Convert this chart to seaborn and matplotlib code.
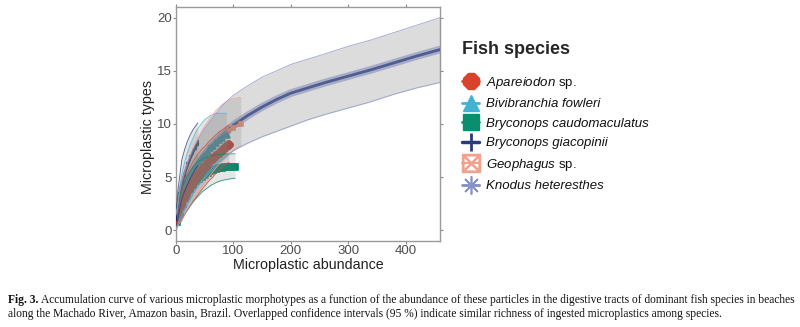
import matplotlib
matplotlib.use("Agg")
import matplotlib.pyplot as plt
import seaborn as sns
import pandas as pd
from matplotlib.lines import Line2D

# ---------------- data ----------------
species = ["Apareiodon sp.", "Bivibranchia fowleri", "Bryconops caudomaculatus",
           "Bryconops giacopinii", "Geophagus sp.", "Knodus heteresthes"]

apa_x = [1, 5, 10, 15, 20, 25, 30, 35, 40, 46, 52, 58, 64, 70, 76, 82, 87, 92]
apa_y = [1.0, 1.4, 2.3, 3.0, 3.6, 4.1, 4.55, 4.9, 5.3, 5.7, 6.05, 6.4, 6.7, 7.0, 7.3, 7.6, 7.8, 8.05]
apa_lo = [0.3, 0.6, 1.0, 1.5, 2.0, 2.4, 2.8, 3.1, 3.5, 3.9, 4.3, 4.7, 5.0, 5.4, 5.7, 6.0, 6.2, 6.4]
apa_hi = [1.7, 2.6, 3.8, 4.7, 5.4, 6.0, 6.5, 6.9, 7.3, 7.7, 8.0, 8.4, 8.7, 9.0, 9.3, 9.5, 9.7, 9.9]

biv_x = [1, 5, 10, 15, 20, 25, 30, 35, 40, 45, 50, 55, 60, 65, 70, 75, 80, 88]
biv_y = [1.0, 2.0, 3.0, 3.8, 4.5, 5.1, 5.6, 6.0, 6.4, 6.8, 7.1, 7.4, 7.7, 7.95, 8.2, 8.45, 8.7, 9.0]
biv_lo = [0.3, 0.8, 1.3, 1.9, 2.4, 2.9, 3.4, 3.9, 4.3, 4.7, 5.0, 5.4, 5.7, 6.0, 6.3, 6.5, 6.7, 7.0]
biv_hi = [1.8, 3.6, 5.2, 6.4, 7.3, 8.1, 8.7, 9.3, 9.7, 10.1, 10.4, 10.6, 10.8, 10.9, 11.0, 11.0, 11.0, 11.0]

cau_x = [1, 5, 10, 15, 20, 25, 30, 35, 40, 45, 50, 55, 60, 65, 70, 75, 80, 85, 90, 95, 103]
cau_y = [0.8, 1.6, 2.4, 3.0, 3.5, 3.9, 4.3, 4.6, 4.85, 5.05, 5.25, 5.4, 5.55, 5.65, 5.75, 5.82, 5.88, 5.92, 5.95, 5.98, 6.0]
cau_lo = [0.2, 0.6, 1.0, 1.5, 1.9, 2.3, 2.7, 3.0, 3.3, 3.6, 3.8, 4.0, 4.2, 4.35, 4.5, 4.6, 4.7, 4.75, 4.8, 4.85, 4.9]
cau_hi = [1.4, 2.7, 3.8, 4.6, 5.2, 5.6, 6.0, 6.3, 6.5, 6.65, 6.8, 6.9, 7.0, 7.05, 7.1, 7.12, 7.15, 7.17, 7.18, 7.19, 7.2]

gia_x = [1, 3, 6, 10, 15, 20, 25, 30, 34, 38]
gia_y = [1.2, 2.2, 3.3, 4.3, 5.3, 6.1, 6.8, 7.4, 7.8, 8.2]
gia_lo = [0.4, 1.0, 1.9, 2.9, 3.7, 4.3, 4.9, 5.4, 5.8, 6.1]
gia_hi = [2.0, 3.6, 4.9, 6.6, 7.6, 8.4, 9.0, 9.5, 9.8, 10.1]

geo_x = [1, 5, 10, 20, 30, 40, 50, 60, 70, 80, 90, 100, 113]
geo_y = [0.9, 1.9, 2.8, 4.2, 5.3, 6.2, 7.0, 7.7, 8.3, 8.8, 9.3, 9.65, 10.0]
geo_lo = [0.2, 0.6, 1.0, 2.0, 2.9, 3.7, 4.5, 5.2, 5.9, 6.5, 7.0, 7.5, 8.0]
geo_hi = [1.6, 3.2, 4.6, 6.4, 7.8, 8.9, 9.8, 10.6, 11.3, 11.8, 12.2, 12.4, 12.5]

kno_x = [1, 5, 10, 20, 30, 40, 50, 60, 80, 100, 125, 150, 175, 200, 230, 260, 300, 340, 380, 420, 460]
kno_y = [0.9, 2.0, 3.0, 4.4, 5.5, 6.4, 7.1, 7.8, 8.9, 9.9, 10.8, 11.6, 12.3, 12.9, 13.4, 13.9, 14.5, 15.1, 15.75, 16.4, 17.0]
kno_lo = [0.3, 0.9, 1.5, 2.6, 3.5, 4.3, 4.9, 5.5, 6.6, 7.5, 8.2, 8.8, 9.3, 9.8, 10.4, 10.9, 11.5, 12.1, 12.8, 13.4, 13.9]
kno_hi = [1.5, 3.2, 4.5, 6.3, 7.6, 8.7, 9.6, 10.3, 11.7, 12.7, 13.6, 14.4, 15.0, 15.6, 16.1, 16.6, 17.3, 17.9, 18.6, 19.3, 20.0]

x_ticks = [0, 100, 200, 300, 400]
y_ticks = [0, 5, 10, 15, 20]

caption_bold = "Fig. 3."
caption_l1 = ("Accumulation curve of various microplastic morphotypes as a function of the abundance of these "
              "particles in the digestive tracts of dominant fish species in beaches")
caption_l2 = ("along the Machado River, Amazon basin, Brazil. Overlapped confidence intervals (95 %) indicate "
              "similar richness of ingested microplastics among species.")

# ---------------- styling ----------------
colors = {
    "Apareiodon sp.": "#d9432c",
    "Bivibranchia fowleri": "#42b2d2",
    "Bryconops caudomaculatus": "#0b8d70",
    "Bryconops giacopinii": "#2b3b78",
    "Geophagus sp.": "#f2a28c",
    "Knodus heteresthes": "#8793c6",
}
series = {
    "Apareiodon sp.": (apa_x, apa_y, apa_lo, apa_hi),
    "Bivibranchia fowleri": (biv_x, biv_y, biv_lo, biv_hi),
    "Bryconops caudomaculatus": (cau_x, cau_y, cau_lo, cau_hi),
    "Bryconops giacopinii": (gia_x, gia_y, gia_lo, gia_hi),
    "Geophagus sp.": (geo_x, geo_y, geo_lo, geo_hi),
    "Knodus heteresthes": (kno_x, kno_y, kno_lo, kno_hi),
}
line_style = {
    "Knodus heteresthes": dict(marker=None, lw=2.0, color="#3f519a"),
    "Geophagus sp.": dict(marker="s", ms=3, lw=2.0, color="#ee9078"),
    "Bivibranchia fowleri": dict(marker="^", ms=5, lw=3.0, color="#1f93b0"),
    "Bryconops caudomaculatus": dict(marker="s", ms=5, lw=4.5, color="#008567"),
    "Apareiodon sp.": dict(marker="8", ms=5.5, lw=2.5, color="#c2301a"),
    "Bryconops giacopinii": dict(marker="|", ms=5, lw=2.0, color="#1e2b66"),
}
ribbon_alpha = {sp: 0.2 for sp in species}
ribbon_alpha["Knodus heteresthes"] = 0.27

sns.set_theme(style="white")
plt.rcParams["font.family"] = ["Liberation Sans", "DejaVu Sans"]
plt.rcParams["mathtext.fontset"] = "custom"
plt.rcParams["mathtext.it"] = "Liberation Sans:italic"
plt.rcParams["mathtext.rm"] = "Liberation Sans"

fig = plt.figure(figsize=(8.0, 3.27), dpi=100)
ax = fig.add_axes([176 / 800, 1 - 241 / 327, (440 - 176) / 800, (241 - 7) / 327])

frames = []
for sp in species:
    xs, ys, lo, hi = series[sp]
    frames.append(pd.DataFrame({"abundance": xs, "types": ys, "lo": lo, "hi": hi, "species": sp}))
df = pd.concat(frames, ignore_index=True)

# Knodus fuzzy marker band under the line
dk = df[df.species == "Knodus heteresthes"]
ax.plot(dk.abundance, dk.types, color="#b6bde2", lw=5.5, zorder=2)

draw_order = ["Knodus heteresthes", "Geophagus sp.", "Bivibranchia fowleri",
              "Bryconops caudomaculatus", "Apareiodon sp.", "Bryconops giacopinii"]
for sp in draw_order:
    d = df[df.species == sp]
    st = line_style[sp]
    kw = dict(color=st["color"], lw=st["lw"], zorder=3)
    if st["marker"]:
        kw.update(marker=st["marker"], markersize=st["ms"], markeredgewidth=1.2,
                  markeredgecolor=st["color"])
    sns.lineplot(data=d, x="abundance", y="types", ax=ax, sort=False,
                 errorbar=None, legend=False, **kw)

# confidence ribbons (drawn over the curves, as in the original)
for sp in species:
    d = df[df.species == sp]
    ax.fill_between(d.abundance, d.lo, d.hi, color="#7f7f7f", alpha=ribbon_alpha[sp], lw=0, zorder=4)
    ax.plot(d.abundance, d.lo, color=colors[sp], lw=0.7, alpha=0.75, zorder=5)
    ax.plot(d.abundance, d.hi, color=colors[sp], lw=0.7, alpha=0.75, zorder=5)

ax.set_xlim(0, 460)
ax.set_ylim(-1, 21)
ax.set_xticks(x_ticks)
ax.set_yticks(y_ticks)
ax.set_xlabel("Microplastic abundance", fontsize=10.3, color="#222222", labelpad=1)
ax.set_ylabel("Microplastic types", fontsize=10.3, color="#222222")
ax.yaxis.set_label_coords((155 - 176) / 264, (241 - 137) / 234)
ax.tick_params(axis="both", which="both", direction="out", length=2, width=0.8,
               color="#8a8a8a", labelsize=9.5, labelcolor="#4d4d4d", pad=0.8,
               top=True, right=True, bottom=True, left=True)
for s in ax.spines.values():
    s.set_color("#9a9a9a")
    s.set_linewidth(1.0)

# legend
handles = [
    Line2D([], [], color=colors["Apareiodon sp."], marker="8", ms=12, lw=2),
    Line2D([], [], color=colors["Bivibranchia fowleri"], marker="^", ms=11, lw=2),
    Line2D([], [], color=colors["Bryconops caudomaculatus"], marker="s", ms=11, lw=2),
    Line2D([], [], color=colors["Bryconops giacopinii"], marker="|", ms=13, mew=2, lw=2.5),
    Line2D([], [], color=colors["Geophagus sp."], marker=r"$\boxtimes$", ms=13, lw=1.5),
    Line2D([], [], color=colors["Knodus heteresthes"], marker=(8, 2, 0), ms=13, mew=1.2, lw=2),
]
labels = [r"$\mathit{Apareiodon}$ sp.", "Bivibranchia fowleri", "Bryconops caudomaculatus",
          "Bryconops giacopinii", r"$\mathit{Geophagus}$ sp.", "Knodus heteresthes"]
leg = fig.legend(handles, labels, loc="upper left", bbox_to_anchor=(457 / 800, 1 - 36 / 327),
                 frameon=False, title="Fish species", alignment="left",
                 fontsize=9.5, title_fontproperties={"weight": "bold", "size": 13},
                 handlelength=1.3, handletextpad=0.5, labelspacing=0.55, borderaxespad=0)
for t, lab in zip(leg.get_texts(), labels):
    if not lab.startswith("$"):
        t.set_style("italic")
    t.set_color("#111111")
leg._legend_box.sep = 12

# caption
cap_font = dict(family=["Liberation Serif", "DejaVu Serif"], fontsize=8.3, color="#111111")
tb = fig.text(8 / 800, 1 - 300 / 327, caption_bold, fontweight="bold", va="center", **cap_font)
fig.canvas.draw()
bb = tb.get_window_extent()
fig.text((bb.x1 + 3) / 800, 1 - 300 / 327, caption_l1, va="center", **cap_font)
fig.text(8 / 800, 1 - 314 / 327, caption_l2, va="center", **cap_font)

fig.savefig("out.png", dpi=100)
